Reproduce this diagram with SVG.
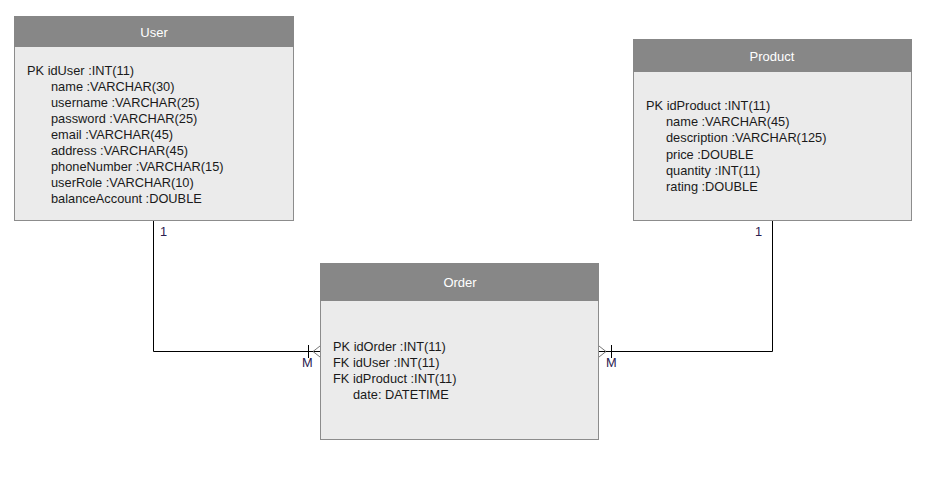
<svg xmlns="http://www.w3.org/2000/svg" width="930" height="489" viewBox="0 0 930 489">
<style>
.box{fill:#ebebeb;stroke:#8c8c8c;stroke-width:1}
.hdr{fill:#878787}
.title{font-family:"Liberation Sans",Arial,sans-serif;font-size:13px;fill:#ffffff;text-anchor:middle}
.attr{font-family:"Liberation Sans",Arial,sans-serif;font-size:12.8px;fill:#1a1a1a}
.lbl{font-family:"Liberation Sans",Arial,sans-serif;font-size:12.8px;fill:#2a2050}
.ln{fill:none;stroke:#000;stroke-width:1}
.crow{fill:none;stroke:#777;stroke-width:1}
</style>
<rect width="930" height="489" fill="#fff"/>
<g id="connectors">
<path class="ln" d="M153.5 220 V351.5 H320"/>
<path class="ln" d="M308.5 345 V358"/>
<path class="crow" d="M320 346 L313 351.5 L320 357"/>
<path class="ln" d="M772.5 220 V351.5 H599"/>
<path class="ln" d="M611.5 345 V358"/>
<path class="crow" d="M599 346 L606 351.5 L599 357"/>
<text class="lbl" x="160" y="236">1</text>
<text class="lbl" x="302" y="367">M</text>
<text class="lbl" x="755" y="236">1</text>
<text class="lbl" x="606" y="367">M</text>
</g>
<g id="user">
<rect class="box" x="14.5" y="16.5" width="279" height="204"/>
<rect class="hdr" x="14" y="16" width="280" height="31"/>
<text class="title" x="154" y="37">User</text>
<text class="attr" x="27" y="75">PK idUser :INT(11)</text>
<text class="attr" x="51" y="91">name :VARCHAR(30)</text>
<text class="attr" x="51" y="107">username :VARCHAR(25)</text>
<text class="attr" x="51" y="123">password :VARCHAR(25)</text>
<text class="attr" x="51" y="139">email :VARCHAR(45)</text>
<text class="attr" x="51" y="155">address :VARCHAR(45)</text>
<text class="attr" x="51" y="171">phoneNumber :VARCHAR(15)</text>
<text class="attr" x="51" y="187">userRole :VARCHAR(10)</text>
<text class="attr" x="51" y="203">balanceAccount :DOUBLE</text>
</g>
<g id="product">
<rect class="box" x="633.5" y="39.5" width="278" height="181"/>
<rect class="hdr" x="633" y="39" width="279" height="33"/>
<text class="title" x="772" y="61">Product</text>
<text class="attr" x="646" y="110">PK idProduct :INT(11)</text>
<text class="attr" x="666" y="126">name :VARCHAR(45)</text>
<text class="attr" x="666" y="142">description :VARCHAR(125)</text>
<text class="attr" x="666" y="159">price :DOUBLE</text>
<text class="attr" x="666" y="175">quantity :INT(11)</text>
<text class="attr" x="666" y="191">rating :DOUBLE</text>
</g>
<g id="order">
<rect class="box" x="320.5" y="263.5" width="278" height="176"/>
<rect class="hdr" x="320" y="263" width="279" height="38"/>
<text class="title" x="460" y="287">Order</text>
<text class="attr" x="333" y="351">PK idOrder :INT(11)</text>
<text class="attr" x="333" y="367">FK idUser :INT(11)</text>
<text class="attr" x="333" y="383">FK idProduct :INT(11)</text>
<text class="attr" x="353" y="399">date: DATETIME</text>
</g>
</svg>
